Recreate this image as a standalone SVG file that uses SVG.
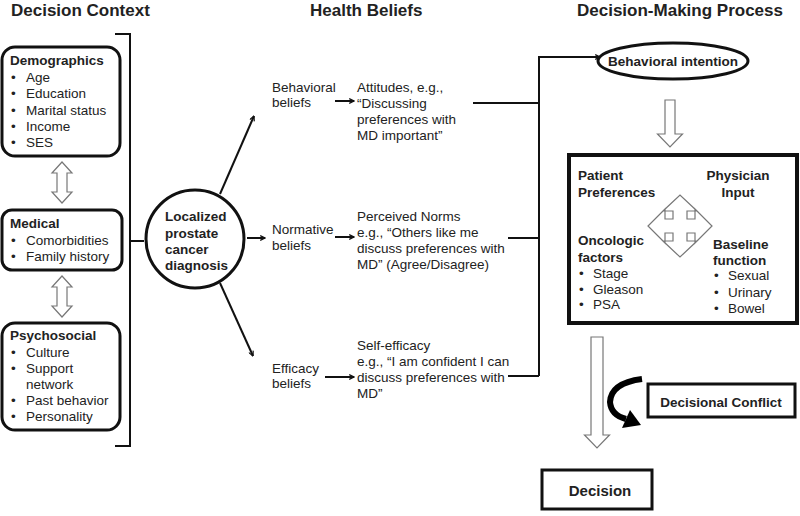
<svg xmlns="http://www.w3.org/2000/svg" width="800" height="516" viewBox="0 0 800 516">
<defs>
<style>
text{font-family:"Liberation Sans",Arial,sans-serif;fill:#222;}
.h{font-size:17px;font-weight:bold;}
.b{font-size:13.5px;font-weight:bold;}
.r{font-size:13.5px;}
.box{fill:#fff;stroke:#111;stroke-width:3;}
.ln{fill:none;stroke:#111;stroke-width:2;}
.hol{fill:#fff;stroke:#777;stroke-width:1.2;}
</style>
<marker id="ah" viewBox="0 0 10 10" refX="9" refY="5" markerWidth="6" markerHeight="6" markerUnits="userSpaceOnUse" orient="auto">
<path d="M1,1 L9,5 L1,9" fill="none" stroke="#111" stroke-width="2"/>
</marker>
</defs>
<rect width="800" height="516" fill="#fff"/>

<g id="titles">
<text class="h" x="11" y="16">Decision Context</text>
<text class="h" x="310" y="16">Health Beliefs</text>
<text class="h" x="577" y="16">Decision-Making Process</text>
</g>

<g id="demographics">
<rect class="box" x="2" y="47" width="118" height="109" rx="13"/>
<text class="b" x="10" y="65">Demographics</text>
<text class="r"><tspan x="11" y="82">•</tspan><tspan x="26" y="82">Age</tspan><tspan x="11" y="98">•</tspan><tspan x="26" y="98">Education</tspan><tspan x="11" y="115">•</tspan><tspan x="26" y="115">Marital status</tspan><tspan x="11" y="131">•</tspan><tspan x="26" y="131">Income</tspan><tspan x="11" y="147">•</tspan><tspan x="26" y="147">SES</tspan></text>
</g>

<g id="medical">
<rect class="box" x="2" y="210" width="120" height="60" rx="10"/>
<text class="b" x="10" y="228">Medical</text>
<text class="r"><tspan x="11" y="245">•</tspan><tspan x="26" y="245">Comorbidities</tspan><tspan x="11" y="261">•</tspan><tspan x="26" y="261">Family history</tspan></text>
</g>

<g id="psychosocial">
<rect class="box" x="2" y="323" width="118" height="107" rx="13"/>
<text class="b" x="10" y="340">Psychosocial</text>
<text class="r"><tspan x="11" y="357">•</tspan><tspan x="26" y="357">Culture</tspan><tspan x="11" y="373">•</tspan><tspan x="26" y="373">Support</tspan><tspan x="26" y="389">network</tspan><tspan x="11" y="405">•</tspan><tspan x="26" y="405">Past behavior</tspan><tspan x="11" y="421">•</tspan><tspan x="26" y="421">Personality</tspan></text>
</g>

<g id="diagnosis">
<circle cx="195" cy="239" r="49" fill="#fff" stroke="#111" stroke-width="3"/>
<text class="b"><tspan x="165" y="221">Localized</tspan><tspan x="165" y="238">prostate</tspan><tspan x="165" y="254">cancer</tspan><tspan x="165" y="270">diagnosis</tspan></text>
</g>

<g id="behavioral-beliefs">
<text class="r"><tspan x="272" y="92">Behavioral</tspan><tspan x="272" y="107">beliefs</tspan></text>
</g>
<g id="attitudes">
<text class="r"><tspan x="357" y="92">Attitudes, e.g.,</tspan><tspan x="357" y="108">“Discussing</tspan><tspan x="357" y="124">preferences with</tspan><tspan x="357" y="140">MD important”</tspan></text>
</g>
<g id="normative-beliefs">
<text class="r"><tspan x="272" y="234">Normative</tspan><tspan x="272" y="250">beliefs</tspan></text>
</g>
<g id="perceived-norms">
<text class="r"><tspan x="357" y="221">Perceived Norms</tspan><tspan x="357" y="237">e.g., “Others like me</tspan><tspan x="357" y="253">discuss preferences with</tspan><tspan x="357" y="269">MD” (Agree/Disagree)</tspan></text>
</g>
<g id="efficacy-beliefs">
<text class="r"><tspan x="272" y="373">Efficacy</tspan><tspan x="272" y="388">beliefs</tspan></text>
</g>
<g id="self-efficacy">
<text class="r"><tspan x="357" y="350">Self-efficacy</tspan><tspan x="357" y="366">e.g., “I am confident I can</tspan><tspan x="357" y="382">discuss preferences with</tspan><tspan x="357" y="398">MD”</tspan></text>
</g>

<g id="behavioral-intention">
<ellipse cx="673" cy="61" rx="75" ry="18" fill="#fff" stroke="#111" stroke-width="3"/>
<text class="b" x="673" y="66" text-anchor="middle">Behavioral intention</text>
</g>

<g id="factors-box">
<rect x="569" y="155" width="228" height="168" fill="#fff" stroke="#111" stroke-width="4"/>
<text class="b"><tspan x="578" y="180">Patient</tspan><tspan x="578" y="197">Preferences</tspan></text>
<text class="b" text-anchor="middle"><tspan x="738" y="180">Physician</tspan><tspan x="738" y="197">Input</tspan></text>
<text class="b"><tspan x="578" y="245">Oncologic</tspan><tspan x="578" y="262">factors</tspan></text>
<text class="r"><tspan x="579" y="278">•</tspan><tspan x="593" y="278">Stage</tspan><tspan x="579" y="294">•</tspan><tspan x="593" y="294">Gleason</tspan><tspan x="579" y="309">•</tspan><tspan x="593" y="309">PSA</tspan></text>
<text class="b"><tspan x="713" y="249">Baseline</tspan><tspan x="713" y="265">function</tspan></text>
<text class="r"><tspan x="714" y="280">•</tspan><tspan x="728" y="280">Sexual</tspan><tspan x="714" y="297">•</tspan><tspan x="728" y="297">Urinary</tspan><tspan x="714" y="313">•</tspan><tspan x="728" y="313">Bowel</tspan></text>
<path class="hol" transform="translate(680 226)" d="M-7,-7 L-7,-15 L-17,-15 L0,-31 L17,-15 L7,-15 L7,-7 L15,-7 L15,-17 L32,0 L15,17 L15,7 L7,7 L7,15 L17,15 L0,31 L-17,15 L-7,15 L-7,7 L-15,7 L-15,17 L-32,0 L-15,-17 L-15,-7 Z"/>
</g>

<g id="decisional-conflict">
<rect x="648" y="384" width="147" height="33" fill="#fff" stroke="#111" stroke-width="3"/>
<text class="b" x="721" y="407" text-anchor="middle">Decisional Conflict</text>
</g>

<g id="decision">
<rect x="542" y="470" width="110" height="39" fill="#fff" stroke="#111" stroke-width="3"/>
<text class="b" x="600" y="496" text-anchor="middle" style="font-size:15px">Decision</text>
</g>

<g id="connectors">
<path class="ln" d="M115,34 L130,34 L130,446 L115,446"/>
<path class="ln" d="M130,241 L144,241"/>
<path class="hol" d="M62,162 L72,173 L67,173 L67,192 L72,192 L62,203 L52,192 L57,192 L57,173 L52,173 Z"/>
<path class="hol" d="M62,276 L72,287 L67,287 L67,306 L72,306 L62,317 L52,306 L57,306 L57,287 L52,287 Z"/>
<path class="ln" d="M220,194 L254,116" marker-end="url(#ah)"/>
<path class="ln" d="M247,238 L265,238" marker-end="url(#ah)"/>
<path class="ln" d="M220,283 L253,356" marker-end="url(#ah)"/>
<path class="ln" d="M335,101 L354,101" marker-end="url(#ah)"/>
<path class="ln" d="M335,237 L354,237" marker-end="url(#ah)"/>
<path class="ln" d="M325,377 L354,377" marker-end="url(#ah)"/>
<path class="ln" d="M473,103 L539,103"/>
<path class="ln" d="M508,238 L539,238"/>
<path class="ln" d="M508,376 L539,376"/>
<path class="ln" d="M539,376 L539,57 L600,57" marker-end="url(#ah)"/>
<path class="hol" d="M665,100 L675,100 L675,134 L682.5,134 L670,147 L657.5,134 L665,134 Z"/>
<path class="hol" d="M591,337 L603,337 L603,435 L609.5,435 L597,448 L584.5,435 L591,435 Z"/>
<path d="M642,379 Q611,383 610,402 Q611,415 626,419" fill="none" stroke="#000" stroke-width="6"/>
<path d="M641,425 L622,428 L630,410 Z" fill="#000"/>
</g>
</svg>
